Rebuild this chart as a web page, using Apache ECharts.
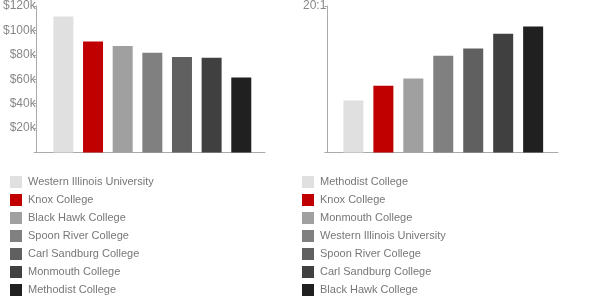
<!DOCTYPE html>
<html>
<head>
<meta charset="utf-8">
<script src="https://cdn.jsdelivr.net/npm/echarts@6/dist/echarts.min.js"></script>
<style>
  html, body { margin: 0; padding: 0; background: #fff; }
  #left, #right { position: absolute; top: 0; width: 300px; height: 300px; }
  #left { left: 0; }
  #right { left: 300px; }
</style>
</head>
<body>
<div id="left"></div>
<div id="right"></div>
<script>
// salary chart
var salaryNames = ['Western Illinois University', 'Knox College', 'Black Hawk College',
  'Spoon River College', 'Carl Sandburg College', 'Monmouth College', 'Methodist College'];
var salaryValues = [111400, 91000, 87200, 81800, 78200, 77700, 61400];

// student / faculty ratio chart
var ratioNames = ['Methodist College', 'Knox College', 'Monmouth College',
  'Western Illinois University', 'Spoon River College', 'Carl Sandburg College', 'Black Hawk College'];
var ratioValues = [7.1, 9.1, 10.1, 13.2, 14.2, 16.2, 17.2];

var palette = ['#e0e0e0', '#c00000', '#a0a0a0', '#808080', '#606060', '#404040', '#202020'];
var font = 'Liberation Sans, Arial, sans-serif';

function makeOption(names, values, axisLeft, yMax, yInterval, fmt, legendLeft, xMin, xMax) {
    var series = names.map(function (n, i) {
        return {
            name: n,
            type: 'bar',
            barWidth: 20,
            barGap: '-100%',
            itemStyle: { color: palette[i] },
            data: [[i, values[i]]]
        };
    });
    return {
        animation: false,
        grid: { left: axisLeft, width: 231, top: 5.5, height: 147 },
        xAxis: {
            type: 'value', min: xMin, max: xMax,
            axisLine: { show: true, onZero: false, lineStyle: { color: '#aaaaaa', width: 1 } },
            axisTick: { show: false },
            axisLabel: { show: false },
            splitLine: { show: false }
        },
        yAxis: {
            type: 'value', min: 0, max: yMax, interval: yInterval,
            axisLine: { show: true, onZero: false, lineStyle: { color: '#aaaaaa', width: 1 } },
            axisTick: { show: true, length: 3, lineStyle: { color: '#aaaaaa' } },
            axisLabel: { margin: 1, color: '#888888', fontFamily: font, fontSize: 12, formatter: fmt },
            splitLine: { show: false }
        },
        legend: {
            orient: 'vertical',
            left: legendLeft, top: 176, height: 130,
            padding: 0,
            itemWidth: 12, itemHeight: 12, itemGap: 6,
            icon: 'rect',
            selectedMode: false,
            textStyle: { color: '#777777', fontFamily: font, fontSize: 11, padding: [0, 0, 0, 1] },
            data: names
        },
        series: series
    };
}

var leftChart = echarts.init(document.getElementById('left'));
leftChart.setOption(makeOption(salaryNames, salaryValues, 34, 120000, 20000, function (v) {
    return v === 0 ? '' : '$' + (v / 1000) + 'k';
}, 10, -0.9, 6.8));

var rightChart = echarts.init(document.getElementById('right'));
rightChart.setOption(makeOption(ratioNames, ratioValues, 27, 20, 20, function (v) {
    return v === 20 ? '20:1' : '';
}, 2, -0.87, 6.83));
</script>
</body>
</html>
